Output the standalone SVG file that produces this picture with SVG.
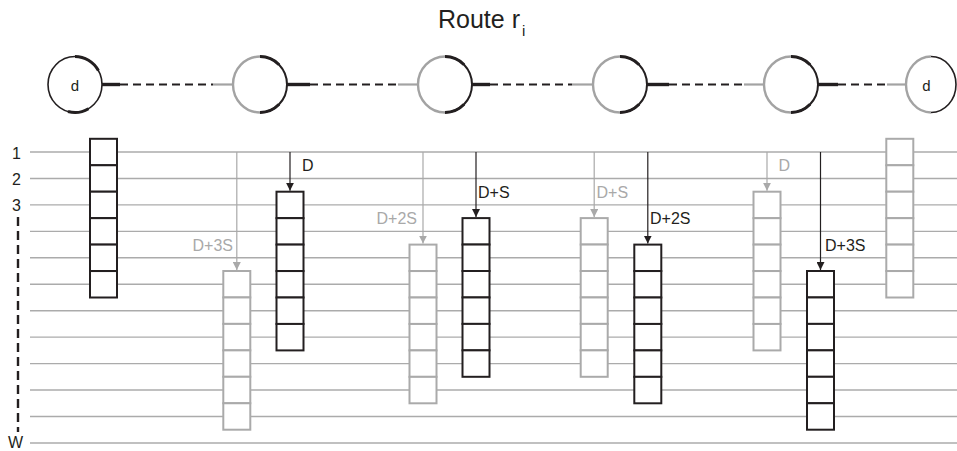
<svg xmlns="http://www.w3.org/2000/svg" xmlns:xlink="http://www.w3.org/1999/xlink" width="957" height="451" viewBox="0 0 957 451">
  <style>
    text { font-family: "Liberation Sans", Arial, sans-serif; }
    .title { font-size: 25px; fill: #231f20; }
    .axis { font-size: 16px; fill: #231f20; }
    .lbl { font-size: 16px; }
    .lbl.k { fill: #231f20; }
    .lbl.g { fill: #a9a9a9; }
    .grid line { stroke: #ababab; stroke-width: 1.4; }
    .stack.k { fill: #ffffff; stroke: #231f20; stroke-width: 2; }
    .stack.g { fill: #ffffff; stroke: #aaaaaa; stroke-width: 2; }
    .arrow.k { stroke: #231f20; stroke-width: 1.2; marker-end: url(#headK); }
    .arrow.g { stroke: #a9a9a9; stroke-width: 1.2; marker-end: url(#headG); }
    .ring-g { fill: none; stroke: #a3a3a3; stroke-width: 2.4; }
    .ring-k { fill: none; stroke: #231f20; stroke-width: 2; }
    .ring-thick { fill: none; stroke: #231f20; stroke-width: 3; }
    .link-dash { stroke: #231f20; stroke-width: 2.2; stroke-dasharray: 8 5; }
    .link-out { stroke: #231f20; stroke-width: 3.4; }
    .link-in { stroke: #a3a3a3; stroke-width: 2.2; }
    .nodelbl { font-size: 15px; fill: #231f20; }
  </style>
  <defs>
    <marker id="headK" viewBox="0 0 8 8" refX="8" refY="4" markerWidth="8" markerHeight="8" markerUnits="userSpaceOnUse" orient="auto">
      <path d="M0,0 L8,4 L0,8 Z" fill="#231f20"/>
    </marker>
    <marker id="headG" viewBox="0 0 8 8" refX="8" refY="4" markerWidth="8" markerHeight="8" markerUnits="userSpaceOnUse" orient="auto">
      <path d="M0,0 L8,4 L0,8 Z" fill="#a9a9a9"/>
    </marker>
    <!-- six wavelength slots, each one grid row high -->
    <g id="slots">
      <rect x="0" y="0" width="27" height="26.45"/>
      <rect x="0" y="26.45" width="27" height="26.45"/>
      <rect x="0" y="52.9" width="27" height="26.45"/>
      <rect x="0" y="79.35" width="27" height="26.45"/>
      <rect x="0" y="105.8" width="27" height="26.45"/>
      <rect x="0" y="132.25" width="27" height="26.45"/>
    </g>
    <!-- intermediate hop: grey incoming half, black outgoing half -->
    <g id="hop">
      <path class="ring-g" d="M0,-28 A27,28 0 0 0 0,28"/>
      <path class="ring-k" d="M0,-28 A27,28 0 0 1 0,28"/>
      <path class="ring-thick" d="M0,-28 A27,28 0 0 1 19.1,-19.8"/>
      <path class="ring-thick" d="M19.1,19.8 A27,28 0 0 1 0,28"/>
    </g>
  </defs>

  <!-- title -->
  <text class="title" x="438" y="27.5">Route r<tspan font-size="15" dy="8" dx="2">i</tspan></text>

  <!-- wavelength grid -->
  <g class="grid">
    <line x1="30" y1="152" x2="957" y2="152"/>
    <line x1="30" y1="178.45" x2="957" y2="178.45"/>
    <line x1="30" y1="204.9" x2="957" y2="204.9"/>
    <line x1="30" y1="231.35" x2="957" y2="231.35"/>
    <line x1="30" y1="257.8" x2="957" y2="257.8"/>
    <line x1="30" y1="284.25" x2="957" y2="284.25"/>
    <line x1="30" y1="310.7" x2="957" y2="310.7"/>
    <line x1="30" y1="337.15" x2="957" y2="337.15"/>
    <line x1="30" y1="363.6" x2="957" y2="363.6"/>
    <line x1="30" y1="390.05" x2="957" y2="390.05"/>
    <line x1="30" y1="416.5" x2="957" y2="416.5"/>
    <line x1="30" y1="442.95" x2="957" y2="442.95"/>
  </g>

  <!-- wavelength axis -->
  <g id="axis">
    <text class="axis" x="21" y="158.5" text-anchor="end">1</text>
    <text class="axis" x="21" y="185" text-anchor="end">2</text>
    <text class="axis" x="21" y="211.4" text-anchor="end">3</text>
    <line x1="18" y1="217" x2="18" y2="432" stroke="#231f20" stroke-width="2.4" stroke-dasharray="9 5"/>
    <text class="axis" x="8" y="447.5">W</text>
  </g>

  <!-- route nodes -->
  <g id="node-src">
    <ellipse cx="75" cy="84.5" rx="27" ry="28" fill="none" stroke="#231f20" stroke-width="1.6"/>
    <path class="ring-thick" d="M75,56.5 A27,28 0 0 1 98.38,70.5"/>
    <path class="ring-thick" d="M88.5,108.75 A27,28 0 0 1 68,111.55"/>
    <text class="nodelbl" x="75" y="90.5" text-anchor="middle">d</text>
  </g>
  <g id="node-hop1"><use xlink:href="#hop" x="260" y="84.5"/></g>
  <g id="node-hop2"><use xlink:href="#hop" x="445" y="84.5"/></g>
  <g id="node-hop3"><use xlink:href="#hop" x="620" y="84.5"/></g>
  <g id="node-hop4"><use xlink:href="#hop" x="791" y="84.5"/></g>
  <g id="node-dst">
    <path class="ring-g" d="M931,56.5 A25,28 0 0 0 931,112.5"/>
    <path d="M931,56.5 A25,28 0 0 1 931,112.5" fill="none" stroke="#231f20" stroke-width="1.6"/>
    <text class="nodelbl" x="926.5" y="90.5" text-anchor="middle">d</text>
  </g>

  <!-- links between nodes -->
  <g id="links">
    <line class="link-out" x1="102" y1="84.5" x2="120" y2="84.5"/>
    <line class="link-dash" x1="120" y1="84.5" x2="213" y2="84.5"/>
    <line class="link-in" x1="213" y1="84.5" x2="233" y2="84.5"/>

    <line class="link-out" x1="287" y1="84.5" x2="310" y2="84.5"/>
    <line class="link-dash" x1="310" y1="84.5" x2="398" y2="84.5"/>
    <line class="link-in" x1="398" y1="84.5" x2="418" y2="84.5"/>

    <line class="link-out" x1="472" y1="84.5" x2="490" y2="84.5"/>
    <line class="link-dash" x1="490" y1="84.5" x2="572" y2="84.5"/>
    <line class="link-in" x1="572" y1="84.5" x2="593" y2="84.5"/>

    <line class="link-out" x1="647" y1="84.5" x2="669" y2="84.5"/>
    <line class="link-dash" x1="669" y1="84.5" x2="744" y2="84.5"/>
    <line class="link-in" x1="744" y1="84.5" x2="764" y2="84.5"/>

    <line class="link-out" x1="818" y1="84.5" x2="838" y2="84.5"/>
    <line class="link-dash" x1="838" y1="84.5" x2="887" y2="84.5"/>
    <line class="link-in" x1="887" y1="84.5" x2="906" y2="84.5"/>
  </g>

  <!-- slot stacks -->
  <g id="stack-1" class="stack k"><use xlink:href="#slots" x="90" y="138.8"/></g>
  <g id="stack-2" class="stack g"><use xlink:href="#slots" x="223.3" y="271"/></g>
  <g id="stack-3" class="stack k"><use xlink:href="#slots" x="276.5" y="191.7"/></g>
  <g id="stack-4" class="stack g"><use xlink:href="#slots" x="409.5" y="244.6"/></g>
  <g id="stack-5" class="stack k"><use xlink:href="#slots" x="462.5" y="218.1"/></g>
  <g id="stack-6" class="stack g"><use xlink:href="#slots" x="580.7" y="218.1"/></g>
  <g id="stack-7" class="stack k"><use xlink:href="#slots" x="634.3" y="244.6"/></g>
  <g id="stack-8" class="stack g"><use xlink:href="#slots" x="753.5" y="191.7"/></g>
  <g id="stack-9" class="stack k"><use xlink:href="#slots" x="807" y="271"/></g>
  <g id="stack-10" class="stack g"><use xlink:href="#slots" x="886.3" y="138.8"/></g>

  <!-- offset arrows -->
  <g id="offsets">
    <line class="arrow g" x1="236.8" y1="152" x2="236.8" y2="270"/>
    <line class="arrow k" x1="290" y1="152" x2="290" y2="190.7"/>
    <line class="arrow g" x1="423" y1="152" x2="423" y2="243.6"/>
    <line class="arrow k" x1="476" y1="152" x2="476" y2="217.1"/>
    <line class="arrow g" x1="594.2" y1="152" x2="594.2" y2="217.1"/>
    <line class="arrow k" x1="647.8" y1="152" x2="647.8" y2="243.6"/>
    <line class="arrow g" x1="767" y1="152" x2="767" y2="190.7"/>
    <line class="arrow k" x1="820.5" y1="152" x2="820.5" y2="270"/>
  </g>

  <!-- offset labels -->
  <g id="offset-labels">
    <text class="lbl g" x="233" y="251" text-anchor="end">D+3S</text>
    <text class="lbl k" x="302" y="171">D</text>
    <text class="lbl g" x="417" y="224" text-anchor="end">D+2S</text>
    <text class="lbl k" x="478" y="198">D+S</text>
    <text class="lbl g" x="596.5" y="198">D+S</text>
    <text class="lbl k" x="650" y="224">D+2S</text>
    <text class="lbl g" x="778.5" y="171">D</text>
    <text class="lbl k" x="825" y="251">D+3S</text>
  </g>
</svg>
